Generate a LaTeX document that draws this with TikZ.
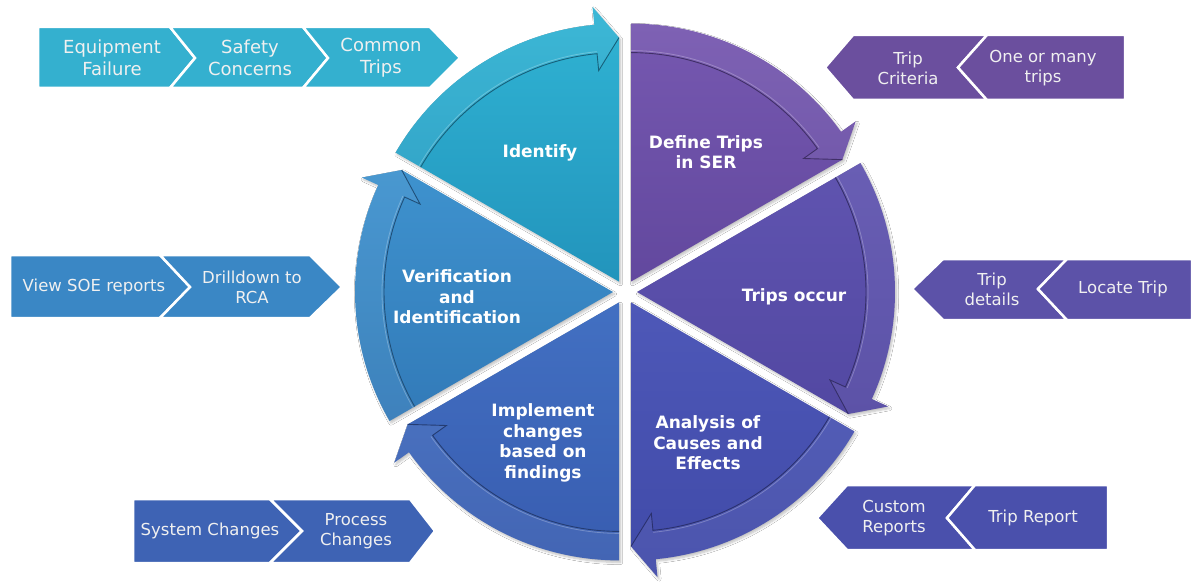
\documentclass[tikz,border=0pt]{standalone}
\usepackage{fontspec}
\setmainfont{DejaVu Sans}
\usetikzlibrary{shadows.blur}
\definecolor{idA}{RGB}{48,180,212}\definecolor{idB}{RGB}{34,148,188}
\definecolor{dfA}{RGB}{118,88,176}\definecolor{dfB}{RGB}{98,72,158}
\definecolor{toA}{RGB}{96,84,176}\definecolor{toB}{RGB}{82,72,162}
\definecolor{anA}{RGB}{78,88,184}\definecolor{anB}{RGB}{64,74,168}
\definecolor{imA}{RGB}{66,112,194}\definecolor{imB}{RGB}{56,92,176}
\definecolor{vfA}{RGB}{62,146,206}\definecolor{vfB}{RGB}{50,122,184}
\definecolor{chTL}{RGB}{52,176,207}
\definecolor{chTR}{RGB}{107,79,158}
\definecolor{chML}{RGB}{58,135,197}
\definecolor{chMR}{RGB}{92,82,168}
\definecolor{chBL}{RGB}{62,99,180}
\definecolor{chBR}{RGB}{74,80,172}
\definecolor{ctxt}{RGB}{240,240,240}
\newcommand\wedgeseg[3]{%
 \begin{scope}[shift={({#1+30}:12)}]
  \pgfmathsetmacro\aA{#1+60}
  \pgfmathsetmacro\aH{#1+5.5}
  \path[blur shadow={shadow xshift=1.5pt,shadow yshift=-2pt,shadow blur steps=6,shadow opacity=25},
        top color=#2,bottom color=#3]
    (0,0) -- (\aA:258) arc[start angle=\aA,end angle=\aH,radius=258]
    -- (\aH:276) -- (#1:244) -- cycle;
  \fill[white,fill opacity=0.06]
    (\aA:258) arc[start angle=\aA,end angle=\aH,radius=258]
    -- (\aH:276) -- (#1:244) -- (\aH:212) -- (\aH:229)
    arc[start angle=\aH,end angle=\aA,radius=229] -- cycle;
  \draw[#3!65!black,line width=0.9pt]
    (\aA:229) arc[start angle=\aA,end angle=\aH,radius=229] -- (\aH:212) -- (#1:244);
  \draw[white,opacity=0.25,line width=0.8pt]
    (\aA:231) arc[start angle=\aA,end angle=\aH,radius=231];
 \end{scope}}
\tikzset{
 chev/.style={fill=#1,draw=white,line width=2.5pt,line join=miter},
 ctext/.style={text=ctxt,align=center,inner sep=0pt,font=\fontsize{16.5}{20}\selectfont},
 ctextb/.style={text=ctxt,align=center,inner sep=0pt,font=\fontsize{18}{22}\selectfont},
 wlabel/.style={text=white,align=center,inner sep=0pt,font=\bfseries\fontsize{17}{20.5}\selectfont}
}
\begin{document}
\begin{tikzpicture}[x=1pt,y=-1pt]
\useasboundingbox (0,0) rectangle (1194,583);
\fill[white] (0,0) rectangle (1194,583);
% ---- circle of segments
\begin{scope}[shift={(625,292)},y=1pt]
 \wedgeseg{90}{idA}{idB}
 \wedgeseg{30}{dfA}{dfB}
 \wedgeseg{-30}{toA}{toB}
 \wedgeseg{-90}{anA}{anB}
 \wedgeseg{-150}{imA}{imB}
 \wedgeseg{150}{vfA}{vfB}
\end{scope}
% ---- segment labels
\node[wlabel] (identify) at (540,153) {Identify};
\node[wlabel] (define) at (706,152) {Define Trips\\in SER};
\node[wlabel] (occur) at (794,297) {Trips occur};
\node[wlabel] (analysis) at (708,443) {Analysis of\\Causes and\\Effects};
\node[wlabel] (implement) at (543,443) {Implement\\changes\\based on\\findings};
\node[wlabel] (verify) at (457,297) {Verification\\and\\Identification};
% ---- top-left chevrons
\filldraw[chev=chTL] (38,27) -- (170,27) -- (195,58) -- (170,88) -- (38,88) -- cycle;
\filldraw[chev=chTL] (170,27) -- (303,27) -- (328,58) -- (303,88) -- (170,88) -- (195,58) -- cycle;
\filldraw[chev=chTL] (303,27) -- (430,27) -- (460,58) -- (430,88) -- (303,88) -- (328,58) -- cycle;
\node[ctextb] (equip) at (112,58) {Equipment\\Failure};
\node[ctextb] (safety) at (250,58) {Safety\\Concerns};
\node[ctextb] (common) at (381,58) {Common\\Trips};
% ---- top-right chevrons
\filldraw[chev=chTR] (825,67.5) -- (853,35) -- (987,35) -- (958,67.5) -- (987,100) -- (853,100) -- cycle;
\filldraw[chev=chTR] (958,67.5) -- (987,35) -- (1125,35) -- (1125,100) -- (987,100) -- cycle;
\node[ctext] (tripcrit) at (908,68) {Trip\\Criteria};
\node[ctext] (onemany) at (1043,68) {One or many\\trips};
% ---- middle-left chevrons
\filldraw[chev=chML] (10,255) -- (160,255) -- (190,287) -- (160,318) -- (10,318) -- cycle;
\filldraw[chev=chML] (160,255) -- (310,255) -- (342,287) -- (310,318) -- (160,318) -- (190,287) -- cycle;
\node[ctext] (viewsoe) at (94,287) {View SOE reports};
\node[ctext] (drill) at (252,287) {Drilldown to\\RCA};
% ---- middle-right chevrons
\filldraw[chev=chMR] (912,289) -- (943,259) -- (1067,259) -- (1038,289) -- (1067,320) -- (943,320) -- cycle;
\filldraw[chev=chMR] (1038,289) -- (1067,259) -- (1192,259) -- (1192,320) -- (1067,320) -- cycle;
\node[ctext] (tripdet) at (992,289) {Trip\\details};
\node[ctext] (locate) at (1123,289) {Locate Trip};
% ---- bottom-left chevrons
\filldraw[chev=chBL] (133,499) -- (270,499) -- (302,531) -- (270,563) -- (133,563) -- cycle;
\filldraw[chev=chBL] (270,499) -- (410,499) -- (435,531) -- (410,563) -- (270,563) -- (302,531) -- cycle;
\node[ctext] (syschg) at (210,531) {System Changes};
\node[ctext] (procchg) at (356,531) {Process\\Changes};
% ---- bottom-right chevrons
\filldraw[chev=chBR] (817,518) -- (847,485) -- (975,485) -- (947,518) -- (975,550) -- (847,550) -- cycle;
\filldraw[chev=chBR] (947,518) -- (975,485) -- (1108,485) -- (1108,550) -- (975,550) -- cycle;
\node[ctext] (custom) at (894,518) {Custom\\Reports};
\node[ctext] (tripreport) at (1033,518) {Trip Report};
\end{tikzpicture}
\end{document}
